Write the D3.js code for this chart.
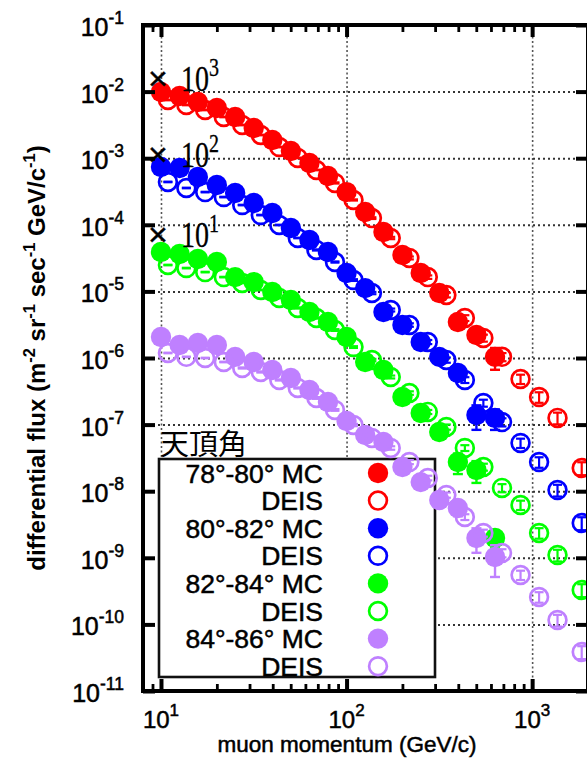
<!DOCTYPE html>
<html>
<head>
<meta charset="utf-8">
<script src="https://cdn.jsdelivr.net/npm/d3@7"></script>
<style>
  body { margin: 0; background: #fff; }
  svg { display: block; }
</style>
</head>
<body>
<svg id="chart" width="587" height="776"></svg>
<script>
// Muon momentum bins (GeV/c)
const mcMomentum = [10, 12.6, 15.8, 20.0, 25.1, 31.6, 39.8, 50.1, 63.1, 79.4,
  100, 126, 158, 200, 251, 316, 398, 501, 631];
const deisMomentum = [10.9, 13.7, 17.3, 21.8, 27.4, 34.5, 43.4, 54.6, 68.8, 86.6,
  109, 137, 173, 218, 274, 345, 434, 546, 688, 866, 1090, 1370, 1850];

// Zenith-angle bands, colours and the scale factor applied to each band
const zenithBands = ["78°-80°", "80°-82°", "82°-84°", "84°-86°"];
const bandColors = ["#ff0000", "#0000ff", "#00ff00", "#bf80ff"];
const scaleExponents = ["3", "2", "1"];

// Simulated (MC) flux, already multiplied by the band scale factor
const mcFlux78 = [9.86e-3, 8.59e-3, 6.98e-3, 5.68e-3, 4.16e-3, 2.84e-3, 1.88e-3, 1.28e-3, 8.47e-4, 5.41e-4,
  3.10e-4, 1.56e-4, 7.80e-5, 3.52e-5, 1.89e-5, 9.46e-6, 3.48e-6, 2.21e-6, 1.04e-6];
const mcFlux80 = [7.38e-4, 7.13e-4, 5.22e-4, 3.96e-4, 3.00e-4, 2.12e-4, 1.50e-4, 8.95e-5, 5.92e-5, 3.91e-5,
  1.89e-5, 1.12e-5, 4.91e-6, 3.13e-6, 1.74e-6, 1.04e-6, 5.96e-7, 1.39e-7, 1.26e-7];
const mcFlux82 = [3.91e-5, 3.65e-5, 3.06e-5, 2.76e-5, 1.64e-5, 1.38e-5, 9.79e-6, 7.43e-6, 4.91e-6, 3.48e-6,
  2.07e-6, 8.71e-7, 6.61e-7, 2.59e-7, 1.49e-7, 7.74e-8, 2.74e-8, 2.08e-8, 1.98e-9];
const mcFlux84 = [2.07e-6, 1.57e-6, 1.68e-6, 1.57e-6, 1.04e-6, 8.71e-7, 6.61e-7, 5.01e-7, 3.31e-7, 2.18e-7,
  1.13e-7, 6.98e-8, 5.48e-8, 2.31e-8, 1.37e-8, 7.38e-9, 5.60e-9, 1.98e-9, 1.03e-9];

// Relative statistical errors of the MC points
const mcErr78 = [0.01, 0.01, 0.01, 0.01, 0.01, 0.01, 0.01, 0.01, 0.02, 0.02,
  0.03, 0.03, 0.04, 0.05, 0.06, 0.08, 0.12, 0.15, 0.36];
const mcErr80 = [0.01, 0.01, 0.01, 0.01, 0.01, 0.01, 0.02, 0.02, 0.02, 0.03,
  0.03, 0.04, 0.05, 0.06, 0.08, 0.1, 0.15, 0.4, 0.34];
const mcErr82 = [0.01, 0.01, 0.01, 0.01, 0.02, 0.02, 0.02, 0.03, 0.03, 0.04,
  0.05, 0.06, 0.07, 0.08, 0.1, 0.15, 0.34, 0.36, 0.3];
const mcErr84 = [0.02, 0.02, 0.02, 0.02, 0.03, 0.03, 0.04, 0.04, 0.05, 0.06,
  0.07, 0.08, 0.1, 0.12, 0.15, 0.2, 0.25, 0.4, 0.5];

// DEIS measurement, same scale factors
const deisFlux78 = [7.48e-3, 6.30e-3, 5.30e-3, 4.16e-3, 3.15e-3, 2.23e-3, 1.47e-3, 1.01e-3, 6.65e-4, 4.25e-4,
  2.36e-4, 1.26e-4, 6.34e-5, 3.18e-5, 1.64e-5, 8.83e-6, 3.99e-6, 2.00e-6, 1.04e-6, 4.84e-7,
  2.59e-7, 1.26e-7, 2.23e-8];
const deisFlux80 = [4.40e-4, 3.57e-4, 3.10e-4, 2.61e-4, 1.98e-4, 1.40e-4, 9.93e-5, 6.34e-5, 4.19e-5, 2.76e-5,
  1.48e-5, 9.46e-6, 5.26e-6, 3.13e-6, 1.74e-6, 9.33e-7, 4.68e-7, 2.11e-7, 1.09e-7, 5.30e-8,
  2.74e-8, 1.04e-8, 3.33e-9];
const deisFlux82 = [2.49e-5, 2.24e-5, 1.95e-5, 1.64e-5, 1.34e-5, 1.05e-5, 7.96e-6, 5.64e-6, 3.99e-6, 2.63e-6,
  1.46e-6, 9.33e-7, 5.19e-7, 2.98e-7, 1.55e-7, 9.20e-8, 4.46e-8, 2.31e-8, 1.12e-8, 6.21e-9,
  2.36e-9, 1.10e-9, 3.29e-10];
const deisFlux84 = [1.19e-6, 1.04e-6, 1.00e-6, 8.71e-7, 7.08e-7, 6.17e-7, 4.68e-7, 3.55e-7, 2.51e-7, 1.66e-7,
  9.86e-8, 6.30e-8, 4.46e-8, 2.74e-8, 1.58e-8, 8.77e-9, 4.10e-9, 2.36e-9, 1.18e-9, 5.52e-10,
  2.58e-10, 1.16e-10, 3.86e-11];

// Relative errors of the DEIS points
const deisErr78 = [0.01, 0.01, 0.01, 0.01, 0.01, 0.01, 0.01, 0.01, 0.01, 0.02,
  0.02, 0.03, 0.04, 0.05, 0.06, 0.08, 0.1, 0.12, 0.14, 0.16, 0.18, 0.2, 0.22];
const deisErr80 = [0.01, 0.01, 0.01, 0.01, 0.01, 0.01, 0.01, 0.01, 0.02, 0.02,
  0.03, 0.04, 0.05, 0.06, 0.07, 0.09, 0.1, 0.12, 0.14, 0.16, 0.18, 0.2, 0.22];
const deisErr82 = [0.01, 0.01, 0.01, 0.01, 0.01, 0.01, 0.01, 0.02, 0.02, 0.03,
  0.03, 0.04, 0.05, 0.06, 0.07, 0.09, 0.1, 0.12, 0.14, 0.16, 0.18, 0.2, 0.22];
const deisErr84 = [0.01, 0.01, 0.01, 0.01, 0.02, 0.02, 0.02, 0.02, 0.03, 0.03,
  0.04, 0.05, 0.06, 0.07, 0.08, 0.09, 0.1, 0.12, 0.14, 0.16, 0.18, 0.2, 0.22];

const mcFlux = [mcFlux78, mcFlux80, mcFlux82, mcFlux84];
const mcErr = [mcErr78, mcErr80, mcErr82, mcErr84];
const deisFlux = [deisFlux78, deisFlux80, deisFlux82, deisFlux84];
const deisErr = [deisErr78, deisErr80, deisErr82, deisErr84];

const legendTitle = "天頂角";
const xTitle = "muon momentum (GeV/c)";

// ---- layout ----
const plot = { left: 143, right: 588, top: 25, bottom: 691 };
const x = d3.scaleLog().domain([8, 2000]).range([plot.left, plot.right]);
const y = d3.scaleLog().domain([1e-11, 1e-1]).range([plot.bottom, plot.top]);

const svg = d3.select("#chart");
const sans = "'Liberation Sans', Arial, Helvetica, sans-serif";
const serif = "'Liberation Serif', 'DejaVu Serif', serif";

const xMajor = [10, 100, 1000];
const yMajor = d3.range(-11, 0).map(e => Math.pow(10, e));
const xMinor = x.ticks().filter(v => xMajor.indexOf(v) < 0);

// slightly heavier glyphs for all labels
function heavy(sel, w) {
  sel.attr("stroke", "#000").attr("stroke-width", w).attr("paint-order", "stroke");
}

// ---- grid ----
const grid = svg.append("g");
grid.append("g").attr("transform", `translate(0,${plot.bottom})`)
  .call(d3.axisBottom(x).tickValues(xMajor).tickSize(-(plot.bottom - plot.top)).tickFormat(""))
  .call(g => g.select(".domain").remove())
  .selectAll("line").attr("stroke", "#555").attr("stroke-width", 1.6).attr("stroke-dasharray", "2,2.5");
grid.append("g").attr("transform", `translate(${plot.left},0)`)
  .call(d3.axisLeft(y).tickValues(yMajor.slice(1, -1)).tickSize(-(plot.right - plot.left)).tickFormat(""))
  .call(g => g.select(".domain").remove())
  .selectAll("line").attr("stroke", "#333").attr("stroke-width", 2).attr("stroke-dasharray", "2,3");

// ---- legend box (opaque, under the data) ----
const legend = { left: 159, top: 459, right: 435, bottom: 677, rowTop: 473, rowStep: 27.6, textX: 323, markX: 378 };
svg.append("rect")
  .attr("x", legend.left).attr("y", legend.top)
  .attr("width", legend.right - legend.left).attr("height", legend.bottom - legend.top)
  .attr("fill", "#fff").attr("stroke", "#111").attr("stroke-width", 2.6);

svg.append("text")
  .attr("x", 160).attr("y", 455)
  .attr("font-family", "'Noto Sans CJK JP', 'Noto Sans CJK SC', sans-serif")
  .attr("font-size", 29)
  .text(legendTitle);

const legendRows = [];
zenithBands.forEach((band, i) => {
  legendRows.push({ label: band + " MC", color: bandColors[i], filled: true });
  legendRows.push({ label: "DEIS", color: bandColors[i], filled: false });
});
svg.append("g").selectAll("text").data(legendRows).join("text")
  .attr("x", legend.textX)
  .attr("y", (d, i) => legend.rowTop + i * legend.rowStep + 9.5)
  .attr("text-anchor", "end")
  .attr("font-family", sans).attr("font-size", 26.5)
  .call(s => heavy(s, 0.5))
  .text(d => d.label);

// ---- data ----
function errorBar(g, px, v, rel, color, width, cap) {
  const y0 = y(v * (1 - rel)), y1 = y(v * (1 + rel));
  g.append("line").attr("x1", px).attr("x2", px).attr("y1", y0).attr("y2", y1)
    .attr("stroke", color).attr("stroke-width", width);
  [y0, y1].forEach(yy => g.append("line")
    .attr("x1", px - cap).attr("x2", px + cap).attr("y1", yy).attr("y2", yy)
    .attr("stroke", color).attr("stroke-width", width));
}

const dataLayer = svg.append("g");
zenithBands.forEach((band, i) => {
  const color = bandColors[i];
  const gMc = dataLayer.append("g");
  mcMomentum.forEach((p, k) => {
    errorBar(gMc, x(p), mcFlux[i][k], mcErr[i][k], color, 2.4, 5);
  });
  gMc.selectAll("circle").data(mcMomentum).join("circle")
    .attr("cx", d => x(d))
    .attr("cy", (d, k) => y(mcFlux[i][k]))
    .attr("r", 10.2)
    .attr("fill", color);

  const gDe = dataLayer.append("g");
  gDe.selectAll("circle").data(deisMomentum).join("circle")
    .attr("cx", d => x(d))
    .attr("cy", (d, k) => y(deisFlux[i][k]))
    .attr("r", 8.9)
    .attr("fill", "none")
    .attr("stroke", color)
    .attr("stroke-width", 2.7);
  deisMomentum.forEach((p, k) => {
    errorBar(gDe, x(p), deisFlux[i][k], deisErr[i][k], color, 2.2, 4.5);
  });
});

// legend markers
svg.append("g").selectAll("circle").data(legendRows).join("circle")
  .attr("cx", legend.markX)
  .attr("cy", (d, i) => legend.rowTop + i * legend.rowStep)
  .attr("r", d => d.filled ? 10.2 : 8.9)
  .attr("fill", d => d.filled ? d.color : "none")
  .attr("stroke", d => d.filled ? "none" : d.color)
  .attr("stroke-width", 2.7);

// ---- frame and ticks ----
const axes = svg.append("g");
function styleTicks(sel, w) {
  sel.call(g => g.select(".domain").remove())
    .selectAll("line").attr("stroke", "#000").attr("stroke-width", w);
}
axes.append("g").attr("transform", `translate(0,${plot.bottom})`)
  .call(d3.axisBottom(x).tickValues(xMajor).tickSize(-12).tickFormat("")).call(s => styleTicks(s, 4));
axes.append("g").attr("transform", `translate(0,${plot.bottom})`)
  .call(d3.axisBottom(x).tickValues(xMinor).tickSize(-7).tickFormat("")).call(s => styleTicks(s, 2.8));
axes.append("g").attr("transform", `translate(0,${plot.top})`)
  .call(d3.axisTop(x).tickValues(xMajor).tickSize(-12).tickFormat("")).call(s => styleTicks(s, 4));
axes.append("g").attr("transform", `translate(0,${plot.top})`)
  .call(d3.axisTop(x).tickValues(xMinor).tickSize(-7).tickFormat("")).call(s => styleTicks(s, 2.8));
axes.append("g").attr("transform", `translate(${plot.left},0)`)
  .call(d3.axisLeft(y).tickValues(yMajor).tickSize(-12).tickFormat("")).call(s => styleTicks(s, 4));
axes.append("g").attr("transform", `translate(${plot.right},0)`)
  .call(d3.axisRight(y).tickValues(yMajor).tickSize(-12).tickFormat("")).call(s => styleTicks(s, 4));
axes.append("rect")
  .attr("x", plot.left).attr("y", plot.top)
  .attr("width", plot.right - plot.left).attr("height", plot.bottom - plot.top)
  .attr("fill", "none").attr("stroke", "#000").attr("stroke-width", 4);

// ---- tick labels ----
function powerLabel(sel, exp, baseSize, supSize, rise) {
  sel.append("tspan").attr("font-size", baseSize).text("10");
  sel.append("tspan").attr("font-size", supSize).attr("dy", -rise).text(exp);
}
svg.append("g").selectAll("text").data(yMajor).join("text")
  .attr("x", 124)
  .attr("y", d => y(d) + 11)
  .attr("text-anchor", "end")
  .attr("font-family", sans)
  .call(s => heavy(s, 0.5))
  .each(function (d) { powerLabel(d3.select(this), String(Math.round(Math.log10(d))), 25, 17.5, 12); });

svg.append("g").selectAll("text").data(xMajor).join("text")
  .attr("x", d => x(d))
  .attr("y", 728)
  .attr("text-anchor", "middle")
  .attr("font-family", sans)
  .call(s => heavy(s, 0.5))
  .each(function (d) { powerLabel(d3.select(this), String(Math.round(Math.log10(d))), 24, 17, 12); });

// ---- axis titles ----
svg.append("text")
  .attr("x", 347).attr("y", 752)
  .attr("text-anchor", "middle")
  .attr("font-family", sans).attr("font-size", 22.5)
  .call(s => heavy(s, 0.5))
  .text(xTitle);

const yTitle = svg.append("text")
  .attr("transform", "translate(45,358) rotate(-90)")
  .attr("text-anchor", "middle")
  .attr("font-family", sans).attr("font-size", 24).attr("font-weight", "bold");
[["differential flux (m", null], ["-2", "sup"], [" sr", null], ["-1", "sup"],
 [" sec", null], ["-1", "sup"], [" GeV/c", null], ["-1", "sup"], [")", null]].forEach(([t, kind], j, arr) => {
  const ts = yTitle.append("tspan").text(t);
  if (kind === "sup") ts.attr("font-size", 16.5).attr("dy", -10);
  else if (j > 0 && arr[j - 1][1] === "sup") ts.attr("dy", 10);
});

// ---- scale-factor annotations (×10^n) ----
const factorBaselines = [91, 167, 247];
scaleExponents.forEach((e, i) => {
  const g = svg.append("g").attr("transform", `translate(148,${factorBaselines[i]})`);
  g.append("text").attr("x", 0).attr("y", -1)
    .attr("font-family", sans).attr("font-size", 34)
    .call(s => heavy(s, 0.4))
    .text("×");
  const t = g.append("text").attr("transform", "translate(33,0) scale(0.8,1)")
    .attr("font-family", serif)
    .call(s => heavy(s, 0.3));
  t.append("tspan").attr("font-size", 35).text("10");
  t.append("tspan").attr("font-size", 25).attr("dy", -15).text(e);
});
</script>
</body>
</html>
